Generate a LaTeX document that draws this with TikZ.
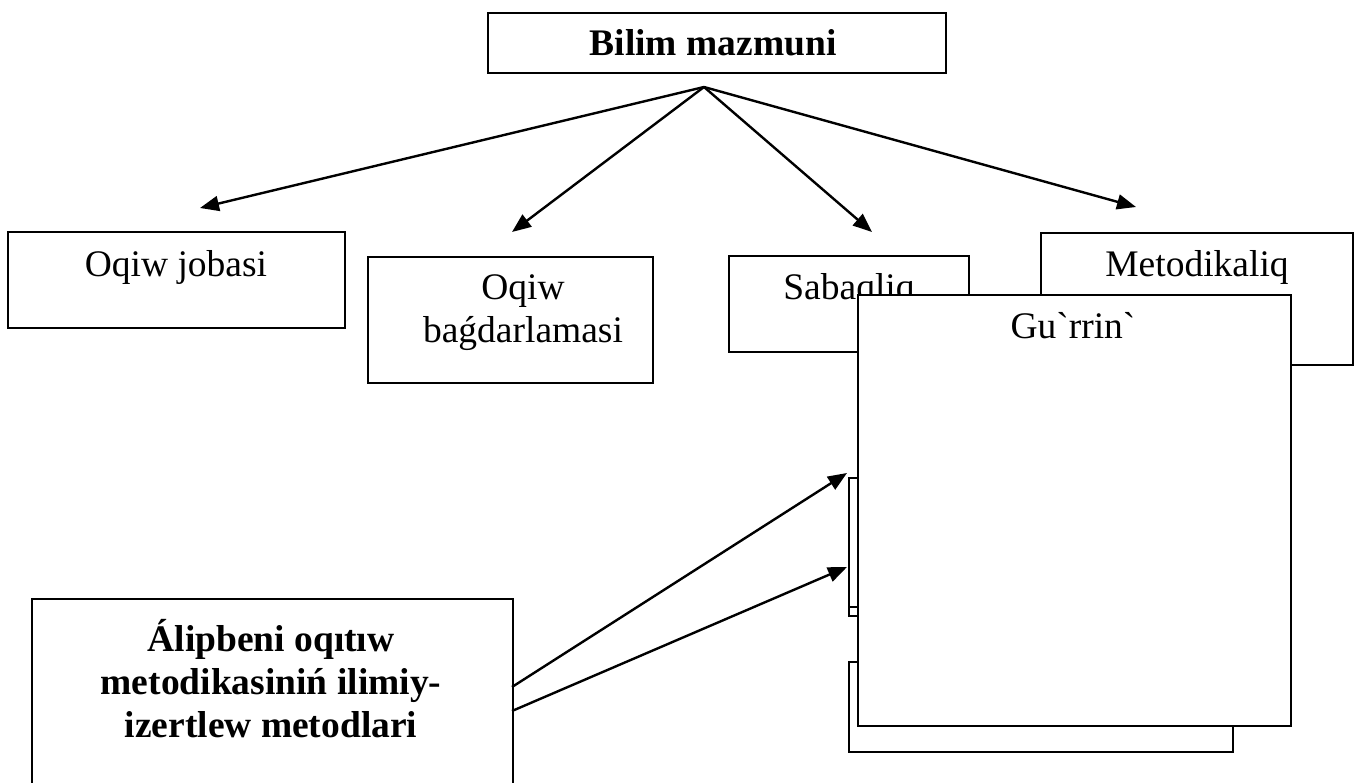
\documentclass[tikz,border=0pt]{standalone}
\usepackage{fontspec}
\setmainfont{Liberation Serif}
% family without TeX ligatures, so that ` stays a grave accent
\newfontfamily\plainserif{Liberation Serif}
\usetikzlibrary{arrows.meta}
\begin{document}
\begin{tikzpicture}[x=1pt,y=-1pt,
  frame/.style={draw=black, line width=2.2pt, fill=white, anchor=north west, inner sep=0pt},
  txt/.style={anchor=base, inner sep=0pt, font=\fontsize{37.5}{43}\selectfont},
  btxt/.style={anchor=base, inner sep=0pt, font=\fontsize{37.5}{43}\selectfont\bfseries},
  link/.style={line width=2.4pt, -{Triangle[length=19pt,width=15pt]}}]
\useasboundingbox (0,0) rectangle (1360,783);
\fill[white] (0,0) rectangle (1360,783);

% top box
\node[frame, minimum width=458pt, minimum height=60pt] (top) at (487,12) {};
\node[btxt] (toptxt) at (713,56) {Bilim mazmuni};

% second row
\node[frame, minimum width=337pt, minimum height=96pt] (plan) at (7,231) {};
\node[txt] (plantxt) at (176,277) {Oqiw jobasi};

\node[frame, minimum width=285pt, minimum height=126pt] (prog) at (367,256) {};
\node[txt] (progtxt1) at (523,300) {Oqiw};
\node[txt] (progtxt2) at (523,343) {baǵdarlamasi};

\node[frame, minimum width=240pt, minimum height=96pt] (book) at (728,255) {};
\node[txt] (booktxt) at (849,300) {Sabaqliq};

\node[frame, minimum width=312pt, minimum height=132pt] (metod) at (1040,232) {};
\node[txt] (metodtxt) at (1197,277) {Metodikaliq};

% branching arrows
\coordinate (apex) at (704,87);
\coordinate (t1) at (200,208);
\coordinate (t2) at (512,232);
\coordinate (t3) at (872,232);
\coordinate (t4) at (1136,207);
\draw[link] (apex) -- (t1);
\draw[link] (apex) -- (t2);
\draw[link] (apex) -- (t3);
\draw[link] (apex) -- (t4);

% stacked boxes on the right
\node[frame, minimum width=302pt, minimum height=138pt] (back2) at (848,477) {};
\draw[line width=2.2pt] (848,607) -- (1150,607);
\node[frame, minimum width=384pt, minimum height=90pt] (back3) at (848,661) {};
\node[frame, minimum width=433pt, minimum height=431pt] (talk) at (857,294) {};
\node[txt, font=\fontsize{37.5}{43}\selectfont\plainserif] (talktxt) at (1073,339) {Gu`rrin`};

% bottom-left box
\node[frame, minimum width=481pt, minimum height=220pt] (methods) at (31,598) {};
\node[btxt] (m1) at (271,651) {Álipbeni oqıtıw};
\node[btxt] (m2) at (271,694) {metodikasiniń ilimiy-};
\node[btxt] (m3) at (271,737) {izertlew metodlari};

\coordinate (s1) at (512,687);
\coordinate (s2) at (512,711);
\coordinate (e1) at (847,473);
\coordinate (e2) at (847,567);
\draw[link] (s1) -- (e1);
\draw[link] (s2) -- (e2);
\end{tikzpicture}
\end{document}
